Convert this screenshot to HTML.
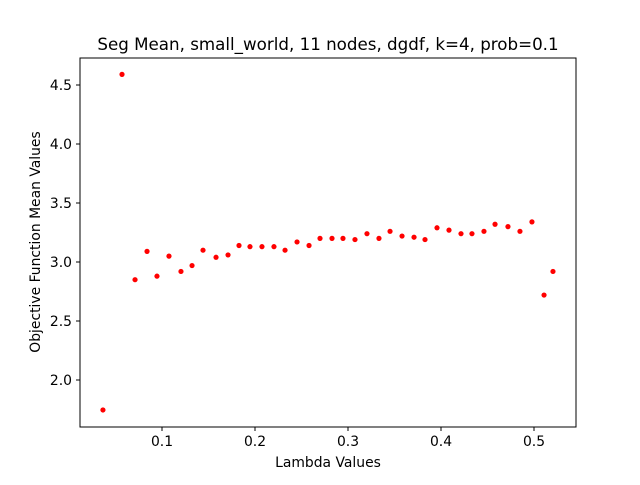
<!DOCTYPE html>
<html><head><meta charset="utf-8"><style>
body{margin:0;background:#fff;}
svg text{font-family:"DejaVu Sans","Liberation Sans",sans-serif;fill:#000;}
</style></head><body>
<svg id="chart" width="640" height="480">
<rect x="0" y="0" width="640" height="480" fill="#fff"/>
<text x="328" y="50" text-anchor="middle" font-size="16.7">Seg Mean, small_world, 11 nodes, dgdf, k=4, prob=0.1</text>
<g id="xticks"></g>
<g id="yticks"></g>
<g id="points"></g>
<rect x="80" y="58" width="496" height="369" fill="none" stroke="#000" stroke-width="1"/>
<text x="328" y="467" text-anchor="middle" font-size="13.9">Lambda Values</text>
<text transform="translate(40,242) rotate(-90)" text-anchor="middle" font-size="13.9">Objective Function Mean Values</text>
</svg>
<script>
const lambdas = [0.0365,0.0570,0.0710,0.0839,0.0946,0.1075,0.1204,0.1323,0.1441,0.1581,0.1710,0.1828,0.1946,0.2075,0.2204,0.2323,0.2452,0.2581,0.2699,0.2828,0.2946,0.3075,0.3204,0.3333,0.3452,0.3581,0.3710,0.3828,0.3957,0.4086,0.4215,0.4333,0.4462,0.4581,0.4720,0.4849,0.4978,0.5108,0.5204];
const values = [1.746,4.59,2.85,3.09,2.88,3.05,2.92,2.97,3.10,3.04,3.06,3.14,3.13,3.13,3.13,3.10,3.17,3.14,3.20,3.20,3.20,3.19,3.24,3.20,3.26,3.22,3.21,3.19,3.29,3.27,3.24,3.24,3.26,3.32,3.30,3.26,3.34,2.72,2.92];
const xTickLabels = ["0.1","0.2","0.3","0.4","0.5"];
const yTickLabels = ["2.0","2.5","3.0","3.5","4.0","4.5"];
const NS="http://www.w3.org/2000/svg";
function xScale(v){return 162+(v-0.1)*930;}
function yScale(v){return 85+(4.5-v)*118;}
const xg=document.getElementById('xticks'), yg=document.getElementById('yticks'), pg=document.getElementById('points');
xTickLabels.forEach(t=>{
  const x=xScale(parseFloat(t));
  const l=document.createElementNS(NS,'line');
  l.setAttribute('x1',x);l.setAttribute('x2',x);l.setAttribute('y1',427);l.setAttribute('y2',431);l.setAttribute('stroke','#000');
  
  
  xg.appendChild(l);
  const tx=document.createElementNS(NS,'text');
  tx.setAttribute('x',x);tx.setAttribute('y',446);tx.setAttribute('text-anchor','middle');tx.setAttribute('font-size','13.9');tx.textContent=t;
  
  
  xg.appendChild(tx);
});
yTickLabels.forEach(t=>{
  const y=yScale(parseFloat(t));
  const l=document.createElementNS(NS,'line');
  l.setAttribute('x1',76);l.setAttribute('x2',80);l.setAttribute('y1',y);l.setAttribute('y2',y);l.setAttribute('stroke','#000');
  
  
  yg.appendChild(l);
  const tx=document.createElementNS(NS,'text');
  tx.setAttribute('x',72);tx.setAttribute('y',y+5);tx.setAttribute('text-anchor','end');tx.setAttribute('font-size','13.9');tx.textContent=t;
  
  
  yg.appendChild(tx);
});
lambdas.forEach((lv,i)=>{
  const c=document.createElementNS(NS,'circle');
  c.setAttribute('cx',xScale(lv));c.setAttribute('cy',yScale(values[i]));c.setAttribute('r',2.6);c.setAttribute('fill','#ff0000');
  
  
  pg.appendChild(c);
});
</script>
</body></html>
